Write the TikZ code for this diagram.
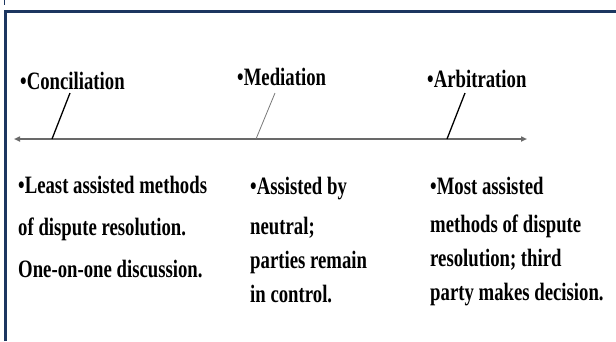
\documentclass[tikz,border=0pt]{standalone}
\usepackage{fontspec}
\newfontfamily\slidefont[FakeStretch=0.75]{Liberation Serif Bold}
\usetikzlibrary{arrows.meta}
\definecolor{framenavy}{RGB}{28,54,96}
\definecolor{axisgray}{RGB}{105,105,105}
\definecolor{tickgray}{RGB}{120,120,120}
\tikzset{
  slide text/.style={anchor=base west, inner sep=0pt, align=left,
    font=\slidefont\fontsize{25}{34}\selectfont},
  wide lines/.style={font=\slidefont\fontsize{25}{42}\selectfont},
  tick line/.style={line width=1.3pt, black},
}
\begin{document}
\begin{tikzpicture}[x=1pt,y=1pt,yscale=-1,xscale=1]
\useasboundingbox (0,0) rectangle (616,341);

% frame
\draw [framenavy, line width=2.8pt] (5.5,341) -- (5.5,11.5) -- (616,11.5) ;
\draw [framenavy, line width=1.5pt] (4.5,0) -- (4.5,5) ;

% titles
\node [slide text] (concil) at (20,89) {•Conciliation};
\node [slide text] (medi) at (237,85) {•Mediation};
\node [slide text] (arbit) at (427,87) {•Arbitration};

% axis
\coordinate (axisL) at (14,139);
\coordinate (axisR) at (527,139);
\draw [axisgray, line width=1.6pt, {Triangle[length=6pt,width=5pt]}-{Triangle[length=6pt,width=5pt]}] (axisL) -- (axisR) ;

% ticks
\coordinate (concilTop) at (70,93);
\coordinate (concilFoot) at (52,139);
\coordinate (mediTop) at (275,93);
\coordinate (mediFoot) at (256,139);
\coordinate (arbitTop) at (465,93);
\coordinate (arbitFoot) at (447,139);
\draw [tick line] (concilTop) -- (concilFoot) ;
\draw [tickgray, line width=0.8pt] (mediTop) -- (mediFoot) ;
\draw [tick line] (arbitTop) -- (arbitFoot) ;

% descriptions (anchored at the last line)
\node [slide text, wide lines] (concilDesc) at (18,277) {•Least assisted methods\\of dispute resolution.\\One-on-one discussion.};
\node [slide text] (mediDesc) at (250,302) {•Assisted by\\[6pt]neutral;\\parties remain\\in control.};
\node [slide text] (arbitDesc) at (430,300) {•Most assisted\\[4pt]methods of dispute\\resolution; third\\party makes decision.};

\end{tikzpicture}
\end{document}
